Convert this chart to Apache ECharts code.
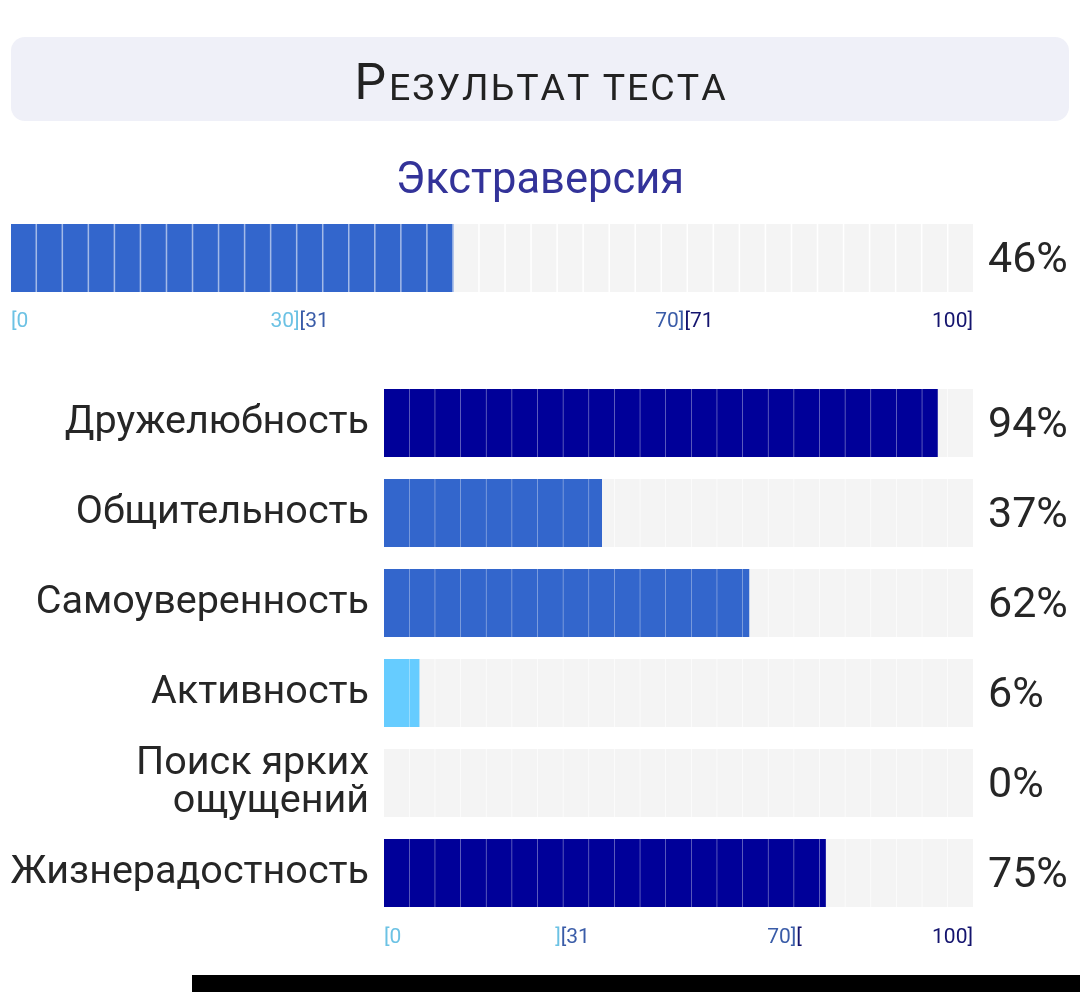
<!DOCTYPE html>
<html lang="ru">
<head>
<meta charset="UTF-8">
<title>Результат теста</title>
<script src="https://cdn.jsdelivr.net/npm/echarts@6/dist/echarts.min.js"></script>
<style>
    * { margin: 0; padding: 0; }
    html, body { width: 100%; height: 100%; background: #fff; }
    #chart { width: 1080px; height: 992px; }
</style>
</head>
<body>
<div id="chart"></div>
<script>
    // data
    const mainTitle = 'Результат теста';
    const scaleName = 'Экстраверсия';
    const scaleValue = [46];
    const traits = ['Дружелюбность', 'Общительность', 'Самоуверенность', 'Активность', 'Поиск ярких\nощущений', 'Жизнерадостность'];
    const traitValues = [94, 37, 62, 6, 0, 75];
    const tickValues = [0, 30, 70, 100];
    // each tick label: [text left of the tick, text right of the tick]
    const topTickLabels = [['', '[0'], ['30]', '[31'], ['70]', '[71'], ['100]', '']];
    const bottomTickLabels = [['', '[0'], [']', '[31'], ['70]', '['], ['100]', '']];

    const FONT = 'Roboto, "Noto Sans", sans-serif';
    const bandColors = ['#66ccff', '#3366cc', '#000099'];
    const tickColors = ['#6cc2e4', '#3a5ca8', '#14146e'];
    const textColor = '#262626';
    const TICK_SIZE = 21;

    function band(v) {
        return v <= 30 ? 0 : (v <= 70 ? 1 : 2);
    }

    const ctx = document.createElement('canvas').getContext('2d');
    ctx.font = TICK_SIZE + 'px ' + FONT;
    function tw(s) {
        return s ? ctx.measureText(s).width : 0;
    }

    // builds rich label so the "][" boundary sits right on the tick
    function tickLabel(parts, key, margin) {
        const rich = {};
        const texts = parts.map((p, i) => {
            const wl = tw(p[0]), wr = tw(p[1]);
            const padL = Math.max(wr - wl, 0), padR = Math.max(wl - wr, 0);
            const toks = [];
            if (p[0]) toks.push({ t: p[0], c: tickColors[i - 1] });
            if (p[1]) toks.push({ t: p[1], c: tickColors[i] });
            return toks.map((tk, j) => {
                const name = key + i + '_' + j;
                rich[name] = {
                    color: tk.c, fontSize: TICK_SIZE, fontFamily: FONT,
                    padding: [0, j === toks.length - 1 ? padR : 0, 0, j === 0 ? padL : 0]
                };
                return '{' + name + '|' + tk.t + '}';
            }).join('');
        });
        return {
            customValues: tickValues,
            margin: margin,
            formatter: function (value) {
                const i = tickValues.indexOf(value);
                return i < 0 ? '' : texts[i];
            },
            rich: rich
        };
    }

    function valueAxis(gridIndex, parts, key, margin) {
        return {
            type: 'value', gridIndex: gridIndex, min: 0, max: 100,
            axisLine: { show: false }, axisTick: { show: false }, splitLine: { show: false },
            axisLabel: tickLabel(parts, key, margin)
        };
    }

    function barSet(axis, values, segW, barH) {
        const sym = {
            type: 'pictorialBar', xAxisIndex: axis, yAxisIndex: axis,
            symbol: 'rect', symbolRepeat: 'fixed', symbolBoundingData: 100,
            symbolSize: [segW, barH], symbolMargin: 0.8, barWidth: barH
        };
        return [
            Object.assign({}, sym, {
                data: values.map(() => 100),
                itemStyle: { color: '#f4f4f4' },
                label: {
                    show: true, position: 'right', distance: 15,
                    fontSize: 43, fontFamily: FONT, color: textColor,
                    offset: [0, 3],
                    formatter: p => values[p.dataIndex] + '%'
                },
                silent: true
            }),
            {
                type: 'bar', xAxisIndex: axis, yAxisIndex: axis, barWidth: barH,
                data: values.map(v => ({ value: v, itemStyle: { color: bandColors[band(v)], opacity: 0.45 } })),
                silent: true
            },
            Object.assign({}, sym, {
                symbolClip: true,
                data: values.map(v => ({ value: v, itemStyle: { color: bandColors[band(v)] } })),
                silent: true
            })
        ];
    }

    // small-caps heading: big first letter, rest as spaced capitals
    const headRest = mainTitle.slice(1).toUpperCase().split('');
    const headText = '{a|' + mainTitle[0].toUpperCase() + '}' +
        headRest.map((ch, i) => '{' + (i === headRest.length - 1 ? 'e' : 'b') + '|' + ch + '}').join('');
    const capStyle = { fontSize: 37.5, fontFamily: FONT, fontWeight: 'normal', color: '#222', verticalAlign: 'bottom', lineHeight: 50 };

    const chart = echarts.init(document.getElementById('chart'));
    chart.setOption({
        animation: false,
        backgroundColor: '#fff',
        title: [{
            text: headText,
            left: 'center', top: 56,
            textStyle: {
                fontWeight: 'normal',
                rich: {
                    a: { fontSize: 50, fontFamily: FONT, fontWeight: 'normal', color: '#222', verticalAlign: 'bottom', lineHeight: 50, padding: [0, 3, 0, 0] },
                    b: Object.assign({}, capStyle, { padding: [0, 2, 1, 0] }),
                    e: Object.assign({}, capStyle, { padding: [0, 0, 1, 0] })
                }
            }
        }, {
            text: scaleName, left: 'center', top: 155,
            textStyle: { fontSize: 43.5, fontFamily: FONT, fontWeight: 'normal', color: '#333399' }
        }],
        graphic: [{
            type: 'rect', z: -10,
            shape: { x: 11, y: 37, width: 1058, height: 84, r: 14 },
            style: { fill: '#eff0f8' }
        }, {
            type: 'rect',
            shape: { x: 192, y: 975, width: 888, height: 17 },
            style: { fill: '#000' }
        }],
        grid: [
            { left: 11, right: 107, top: 224, height: 68, outerBoundsMode: 'none' },
            { left: 384, right: 107, top: 378, height: 540, outerBoundsMode: 'none' }
        ],
        xAxis: [
            valueAxis(0, topTickLabels, 't', 19),
            valueAxis(1, bottomTickLabels, 'b', 9)
        ],
        yAxis: [{
            type: 'category', gridIndex: 0, data: [''], inverse: true,
            axisLine: { show: false }, axisTick: { show: false }, axisLabel: { show: false }
        }, {
            type: 'category', gridIndex: 1, data: traits, inverse: true,
            axisLine: { show: false }, axisTick: { show: false },
            axisLabel: { fontSize: 39.5, fontFamily: FONT, color: textColor, margin: 15, lineHeight: 38, padding: [9, 0, 0, 0] }
        }],
        series: barSet(0, scaleValue, 24.5, 68).concat(barSet(1, traitValues, 25, 68))
    });
</script>
</body>
</html>
